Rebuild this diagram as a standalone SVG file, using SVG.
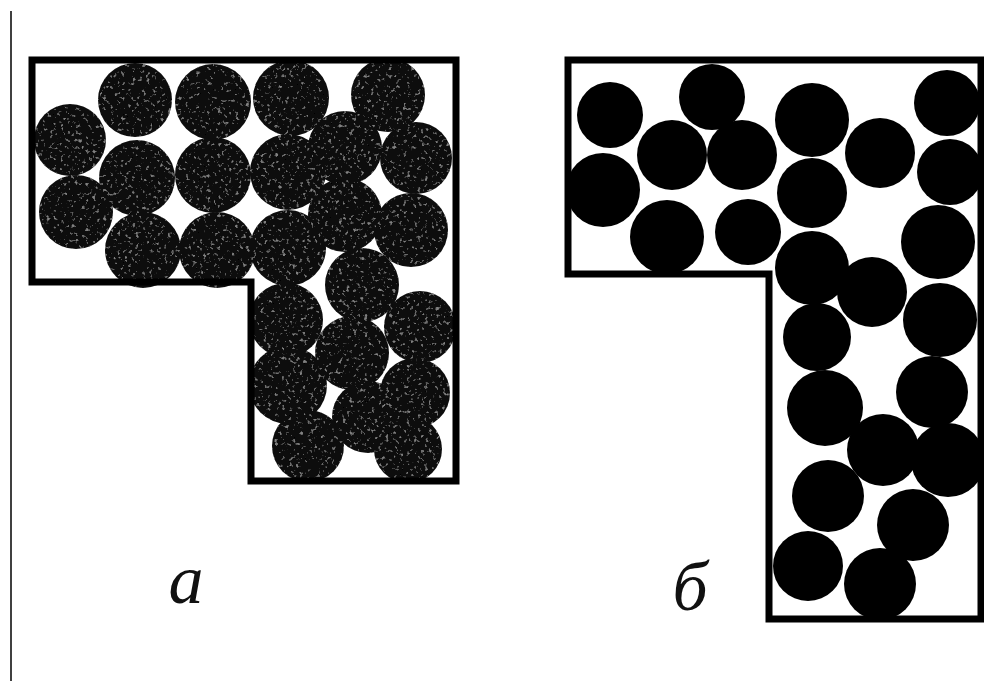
<svg xmlns="http://www.w3.org/2000/svg" width="984" height="681" viewBox="0 0 984 681">
<defs>
<filter id="speck" x="0" y="0" width="100%" height="100%">
<feTurbulence type="fractalNoise" baseFrequency="0.28" numOctaves="2" seed="7" result="n"/>
<feColorMatrix in="n" type="matrix" values="0 0 0 0 0.22  0 0 0 0 0.22  0 0 0 0 0.22  6 0 0 0 -3.7" result="s"/>
<feComposite in="s" in2="SourceGraphic" operator="in" result="sp"/>
<feMerge><feMergeNode in="SourceGraphic"/><feMergeNode in="sp"/></feMerge>
</filter>
</defs>
<style>
.frame{fill:none;stroke:#000;stroke-width:7;stroke-linejoin:miter}
.pa circle{fill:#0a0a0a}
.pb circle{fill:#000}
.lbl{font-family:"Liberation Serif","DejaVu Serif",serif;font-style:italic;font-size:70px;fill:#111;text-anchor:middle}
</style>
<rect width="984" height="681" fill="#fff"/>
<line x1="11" y1="11" x2="11" y2="681" stroke="#000" stroke-width="1.5"/>
<g id="panel-a">
<g class="pa" filter="url(#speck)">
<circle cx="135" cy="100" r="37"/><circle cx="213" cy="102" r="38"/><circle cx="291" cy="98" r="38"/><circle cx="388" cy="95" r="37"/>
<circle cx="70" cy="140" r="36"/><circle cx="416" cy="158" r="36"/><circle cx="345" cy="148" r="37"/>
<circle cx="137" cy="178" r="38"/><circle cx="213" cy="175" r="38"/><circle cx="288" cy="172" r="38"/>
<circle cx="76" cy="212" r="37"/><circle cx="345" cy="215" r="37"/><circle cx="411" cy="230" r="37"/>
<circle cx="143" cy="250" r="38"/><circle cx="217" cy="250" r="38"/><circle cx="288" cy="248" r="38"/>
<circle cx="362" cy="285" r="37"/><circle cx="286" cy="320" r="37"/><circle cx="420" cy="327" r="36"/>
<circle cx="352" cy="353" r="37"/><circle cx="288" cy="385" r="39"/><circle cx="415" cy="393" r="35"/>
<circle cx="368" cy="417" r="36"/><circle cx="308" cy="446" r="36"/><circle cx="408" cy="449" r="34"/>
</g>
<polygon class="frame" points="32,60 456,60 456,481 251,481 251,282 32,282"/>
<text class="lbl" x="186" y="603">а</text>
</g>
<g id="panel-b">
<g class="pb">
<circle cx="610" cy="115" r="33"/><circle cx="712" cy="97" r="33"/><circle cx="812" cy="120" r="37"/><circle cx="947" cy="103" r="33"/>
<circle cx="672" cy="155" r="35"/><circle cx="603" cy="190" r="37"/><circle cx="742" cy="155" r="35"/><circle cx="880" cy="153" r="35"/>
<circle cx="950" cy="172" r="33"/><circle cx="812" cy="193" r="35"/><circle cx="667" cy="237" r="37"/><circle cx="748" cy="232" r="33"/>
<circle cx="938" cy="242" r="37"/><circle cx="812" cy="268" r="37"/><circle cx="872" cy="292" r="35"/><circle cx="940" cy="320" r="37"/>
<circle cx="817" cy="337" r="34"/><circle cx="825" cy="408" r="38"/><circle cx="932" cy="392" r="36"/>
<circle cx="883" cy="450" r="36"/><circle cx="948" cy="460" r="37"/><circle cx="828" cy="496" r="36"/><circle cx="913" cy="525" r="36"/>
<circle cx="808" cy="566" r="35"/><circle cx="880" cy="584" r="36"/>
</g>
<polygon class="frame" points="568,60 981,60 981,619 769,619 769,274 568,274"/>
<text class="lbl" x="690" y="610">б</text>
</g>
<g id="connectors"/>
</svg>
